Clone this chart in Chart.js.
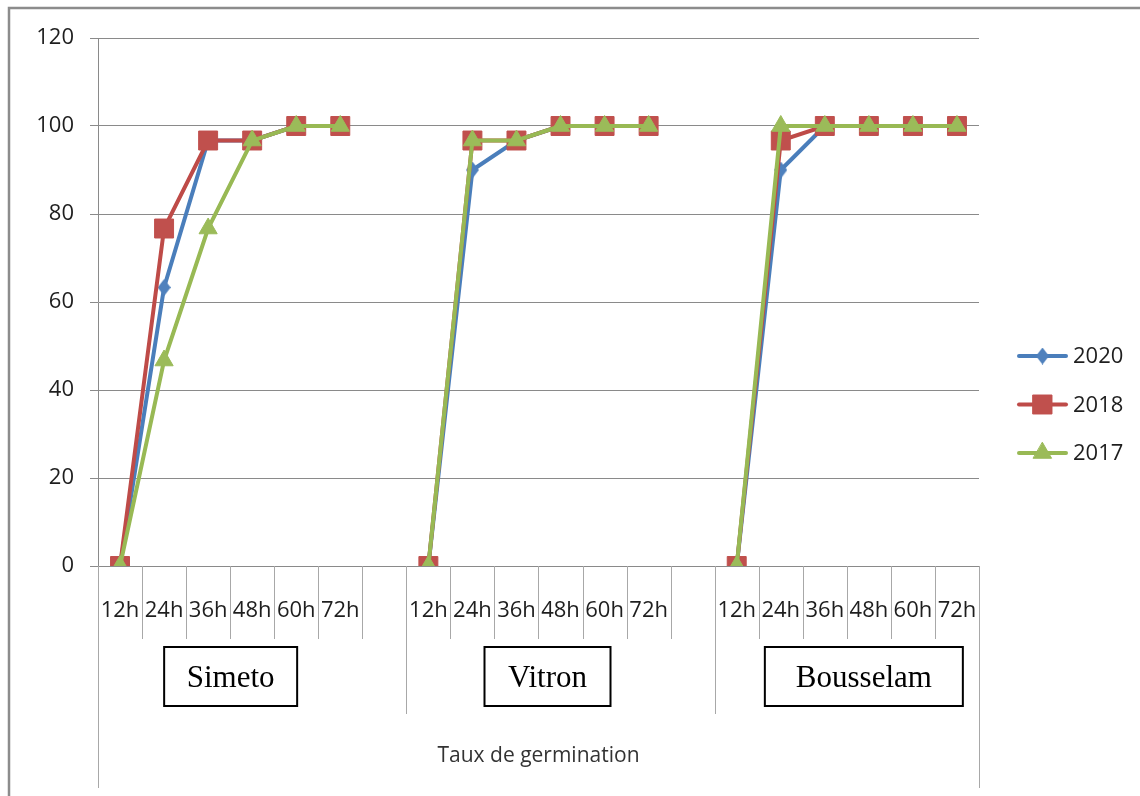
<!DOCTYPE html>
<html>
<head>
<meta charset="utf-8">
<title>Taux de germination</title>
<script src="https://cdn.jsdelivr.net/npm/chart.js@4.4.1/dist/chart.umd.min.js"></script>
<style>
  html, body { margin: 0; padding: 0; background: #fff; }
  #wrap { width: 1140px; height: 796px; }
</style>
</head>
<body>
<div id="wrap"><canvas id="chart" width="1140" height="796"></canvas></div>
<script>
// Germination (%) per reading hour, one array per cultivar and harvest year.
const HOURS = ['12h', '24h', '36h', '48h', '60h', '72h'];
const CULTIVARS = ['Simeto', 'Vitron', 'Bousselam'];
const YEARS = ['2020', '2018', '2017'];
const Y_TICKS = [0, 20, 40, 60, 80, 100, 120];

const simeto2020 = [0, 63.3, 96.7, 96.7, 100, 100];
const simeto2018 = [0, 76.7, 96.7, 96.7, 100, 100];
const simeto2017 = [0, 46.7, 76.7, 96.7, 100, 100];

const vitron2020 = [0, 90, 96.7, 100, 100, 100];
const vitron2018 = [0, 96.7, 96.7, 100, 100, 100];
const vitron2017 = [0, 96.7, 96.7, 100, 100, 100];

const bousselam2020 = [0, 90, 100, 100, 100, 100];
const bousselam2018 = [0, 96.7, 100, 100, 100, 100];
const bousselam2017 = [0, 100, 100, 100, 100, 100];

const AXIS_TITLE = 'Taux de germination';

// Groups are separated by one empty category so the lines break between cultivars.
function joinGroups(groups, filler) {
  return groups.flatMap((g, i) => (i < groups.length - 1 ? [...g, filler] : g));
}

const labels = joinGroups(CULTIVARS.map(() => HOURS), '');
const byYear = {
  '2020': joinGroups([simeto2020, vitron2020, bousselam2020], null),
  '2018': joinGroups([simeto2018, vitron2018, bousselam2018], null),
  '2017': joinGroups([simeto2017, vitron2017, bousselam2017], null),
};

const FONT = "'Open Sans', 'Noto Sans', sans-serif";
const TEXT = '#1e1e1e';
const GRID = '#8a8a8a';
const DIVIDER = '#a8a8a8';

// Excel-style tall diamond marker
function diamond(w, h, color) {
  const c = document.createElement('canvas');
  c.width = w; c.height = h;
  const g = c.getContext('2d');
  g.fillStyle = color;
  g.beginPath();
  g.moveTo(w / 2, 0); g.lineTo(w, h / 2); g.lineTo(w / 2, h); g.lineTo(0, h / 2);
  g.closePath(); g.fill();
  return c;
}

const STYLES = {
  '2020': { line: '#4A7EBB', fill: '#4F81BD', point: diamond(13, 17, '#4F81BD'), radius: 8 },
  '2018': { line: '#BE4B48', fill: '#C0504D', point: 'rect', radius: 13.4 },
  '2017': { line: '#98B954', fill: '#9BBB59', point: 'triangle', radius: 10.5 },
};

const datasets = YEARS.map((year, i) => ({
  label: year,
  data: byYear[year],
  borderColor: STYLES[year].line,
  backgroundColor: STYLES[year].fill,
  pointBackgroundColor: STYLES[year].fill,
  pointBorderColor: STYLES[year].fill,
  pointBorderWidth: 1,
  pointStyle: STYLES[year].point,
  pointRadius: STYLES[year].radius,
  borderWidth: 4,
  tension: 0,
  spanGaps: false,
  order: YEARS.length - i, // later years drawn on top
}));

// Frame, multi-level category axis, group boxes, axis title and side legend.
const decorations = {
  id: 'decorations',
  beforeDraw(chart) {
    const ctx = chart.ctx;
    ctx.save();
    ctx.fillStyle = '#fff';
    ctx.fillRect(0, 0, chart.width, chart.height);
    ctx.strokeStyle = '#8c8c8c';
    ctx.lineWidth = 2.5;
    ctx.beginPath();
    ctx.moveTo(9, chart.height); ctx.lineTo(9, 8); ctx.lineTo(chart.width, 8);
    ctx.stroke();
    ctx.restore();
  },
  afterDraw(chart) {
    const ctx = chart.ctx;
    const x = chart.scales.x;
    const area = chart.chartArea;
    const step = x.getPixelForValue(1) - x.getPixelForValue(0);
    const perGroup = HOURS.length + 1;
    const base = area.bottom;

    ctx.save();
    ctx.lineWidth = 1;
    ctx.strokeStyle = DIVIDER;
    for (let i = 0; i <= labels.length; i++) {
      const px = Math.round(x.getPixelForValue(0) - step / 2 + i * step) + 0.5;
      let end = base + 73;
      if (i === 0 || i === labels.length) end = base + 222;
      else if (i % perGroup === 0) end = base + 148;
      ctx.beginPath();
      ctx.moveTo(px, base);
      ctx.lineTo(px, end);
      ctx.stroke();
    }

    // cultivar name boxes
    const boxW = [133, 126, 198];
    const shift = [0.5, 9, 17];
    ctx.font = "31px 'Liberation Serif', 'Times New Roman', serif";
    ctx.textAlign = 'center';
    ctx.textBaseline = 'alphabetic';
    CULTIVARS.forEach((name, g) => {
      const first = x.getPixelForValue(g * perGroup);
      const last = x.getPixelForValue(g * perGroup + HOURS.length - 1);
      const cx = (first + last) / 2 + shift[g];
      ctx.fillStyle = '#fff';
      ctx.fillRect(cx - boxW[g] / 2, base + 81, boxW[g], 59);
      ctx.strokeStyle = '#000';
      ctx.lineWidth = 2;
      ctx.strokeRect(cx - boxW[g] / 2, base + 81, boxW[g], 59);
      ctx.fillStyle = '#000';
      ctx.fillText(name, cx, base + 121);
    });

    // axis title
    ctx.font = '21px ' + FONT;
    ctx.fillStyle = '#333';
    ctx.textBaseline = 'middle';
    ctx.fillText(AXIS_TITLE, (area.left + area.right) / 2, base + 190);

    // legend
    chart.data.datasets.forEach((ds, i) => {
      const y = 356 + i * 48.5;
      ctx.strokeStyle = ds.borderColor;
      ctx.lineWidth = 4;
      ctx.lineCap = 'round';
      ctx.beginPath();
      ctx.moveTo(1019, y); ctx.lineTo(1066, y);
      ctx.stroke();
      ctx.fillStyle = ds.pointBackgroundColor;
      ctx.strokeStyle = ds.pointBorderColor;
      ctx.lineWidth = 1;
      Chart.helpers.drawPoint(ctx, {
        pointStyle: ds.pointStyle, radius: ds.pointRadius, rotation: 0, borderWidth: 1,
      }, 1042.5, y);
      ctx.fillStyle = TEXT;
      ctx.font = '22px ' + FONT;
      ctx.textAlign = 'left';
      ctx.textBaseline = 'middle';
      ctx.fillText(ds.label, 1073, y + 1);
    });
    ctx.restore();
  },
};

new Chart(document.getElementById('chart'), {
  type: 'line',
  data: { labels, datasets },
  plugins: [decorations],
  options: {
    responsive: false,
    animation: false,
    devicePixelRatio: 1,
    layout: { padding: { left: 0, top: 38, right: 161, bottom: 0 } },
    plugins: { legend: { display: false }, tooltip: { enabled: false } },
    scales: {
      x: {
        type: 'category',
        offset: true,
        grid: { display: false, drawTicks: false },
        border: { display: false },
        ticks: {
          autoSkip: false, maxRotation: 0, padding: 32,
          color: TEXT, font: { family: FONT, size: 22 },
        },
        afterFit(s) { s.height = 230; },
      },
      y: {
        min: 0,
        max: 120,
        afterBuildTicks(s) { s.ticks = Y_TICKS.map(v => ({ value: v })); },
        grid: { color: GRID, lineWidth: 1, tickLength: 8, tickColor: GRID },
        border: { color: GRID, width: 1 },
        ticks: { padding: 16, color: TEXT, font: { family: FONT, size: 22 } },
        afterFit(s) { s.width = 98; },
      },
    },
  },
});
</script>
</body>
</html>
